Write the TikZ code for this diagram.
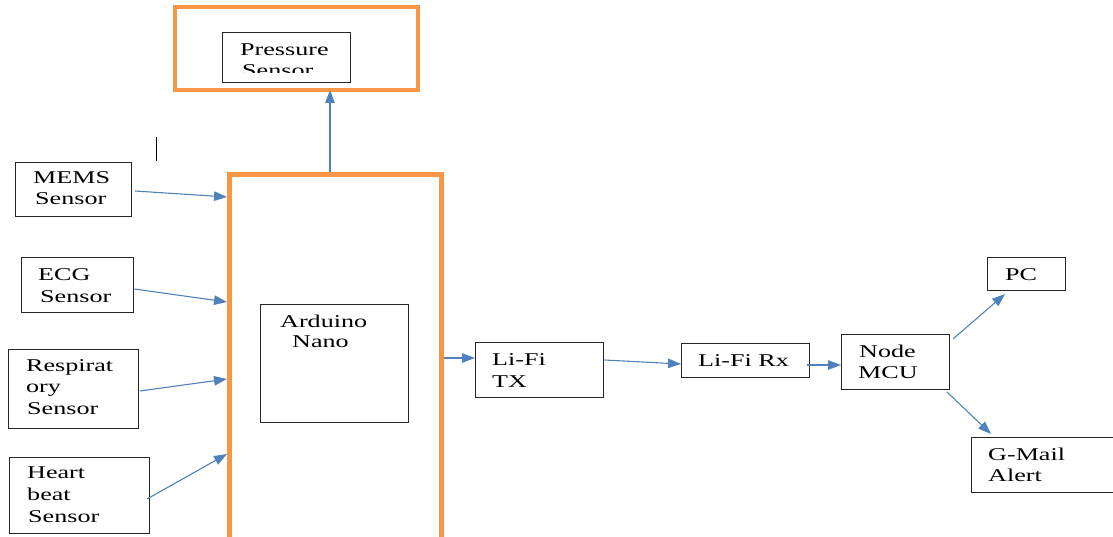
\documentclass[tikz,border=0pt]{standalone}
\usepackage{fontspec}
\setmainfont{Liberation Serif}[FakeStretch=1.45]
\usetikzlibrary{arrows.meta}
\definecolor{ora}{HTML}{F79646}
\definecolor{blu}{HTML}{4F81BD}
\begin{document}
\begin{tikzpicture}[x=1pt,y=-1pt,
  box/.style={draw=black!85,line width=1.3pt,inner sep=0pt,anchor=north west},
  obox/.style={draw=ora,line width=4.5pt,inner sep=0pt,anchor=north west},
  txt/.style={inner sep=0pt,anchor=base west,font=\fontsize{18}{21}\selectfont},
  arr/.style={draw=blu,line width=1.1pt,-{Triangle[length=13pt,width=9.5pt]}}]
\useasboundingbox (0,0) rectangle (1113,537);
% pressure sensor group
\node[obox,minimum width=243pt,minimum height=83pt] (pout) at (172.5,5) {};
\node[box,minimum width=128pt,minimum height=50pt] (pin) at (222,32) {};
\begin{scope}
\clip (223,33) rectangle (349,73);
\node[txt] (tp1) at (240,56) {Pressure};
\node[txt] (tp2) at (242,77) {Sensor};
\end{scope}
% stray mark
\draw[line width=1pt] (156,137) -- (156,161);
% main orange block
\node[obox,minimum width=212pt,minimum height=380pt] (main) at (227,172.5) {};
\node[box,minimum width=148pt,minimum height=118pt] (ard) at (260,304) {};
\node[txt] (ta1) at (280,327) {Arduino};
\node[txt] (ta2) at (292,347) {Nano};
% sensors
\node[box,minimum width=116pt,minimum height=54pt] (mems) at (15,162) {};
\node[txt] (tm1) at (33,184) {MEMS};
\node[txt] (tm2) at (35,205) {Sensor};
\node[box,minimum width=112pt,minimum height=55pt] (ecg) at (21,257) {};
\node[txt] (te1) at (38,280) {ECG};
\node[txt] (te2) at (40,302) {Sensor};
\node[box,minimum width=130pt,minimum height=79pt] (resp) at (8,349) {};
\node[txt] (tr1) at (26,371) {Respirat};
\node[txt] (tr2) at (26,392) {ory};
\node[txt] (tr3) at (27,414) {Sensor};
\node[box,minimum width=140pt,minimum height=76pt] (heart) at (9,457) {};
\node[txt] (th1) at (27,478) {Heart};
\node[txt] (th2) at (27,500) {beat};
\node[txt] (th3) at (28,522) {Sensor};
% chain
\node[box,minimum width=128pt,minimum height=55pt] (tx) at (475,342) {};
\node[txt] (tt1) at (492,365) {Li-Fi};
\node[txt] (tt2) at (492,387) {TX};
\node[box,minimum width=128pt,minimum height=34pt] (rx) at (681,343) {};
\node[txt] (trx) at (698,366) {Li-Fi Rx};
\node[box,minimum width=108pt,minimum height=55pt] (mcu) at (841,334) {};
\node[txt] (tn1) at (859,357) {Node};
\node[txt] (tn2) at (858,378) {MCU};
\node[box,minimum width=78pt,minimum height=33pt] (pc) at (987,257) {};
\node[txt] (tpc) at (1005,280) {PC};
\node[box,minimum width=145pt,minimum height=55pt] (gm) at (971,437) {};
\node[txt] (tg1) at (988,460) {G-Mail};
\node[txt] (tg2) at (988,481) {Alert};
% connectors
\draw[arr] (135,191) -- (main.west |- 0,197);
\draw[arr] (ecg.east |- 0,289) -- (main.west |- 0,302);
\draw[arr] (140,391) -- (main.west |- 0,379);
\draw[arr] (147,499) -- (main.west |- 0,454);
\draw[arr] (main.north -| 330,0) -- (330,90);
\draw[arr] (main.east |- 0,358) -- (tx.west |- 0,358);
\draw[arr] (tx.east |- 0,360) -- (rx.west |- 0,364);
\draw[arr] (807,365) -- (mcu.west |- 0,365);
\draw[arr] (953,339) -- (1005,294);
\draw[arr] (947,392) -- (991,434);
\end{tikzpicture}
\end{document}
